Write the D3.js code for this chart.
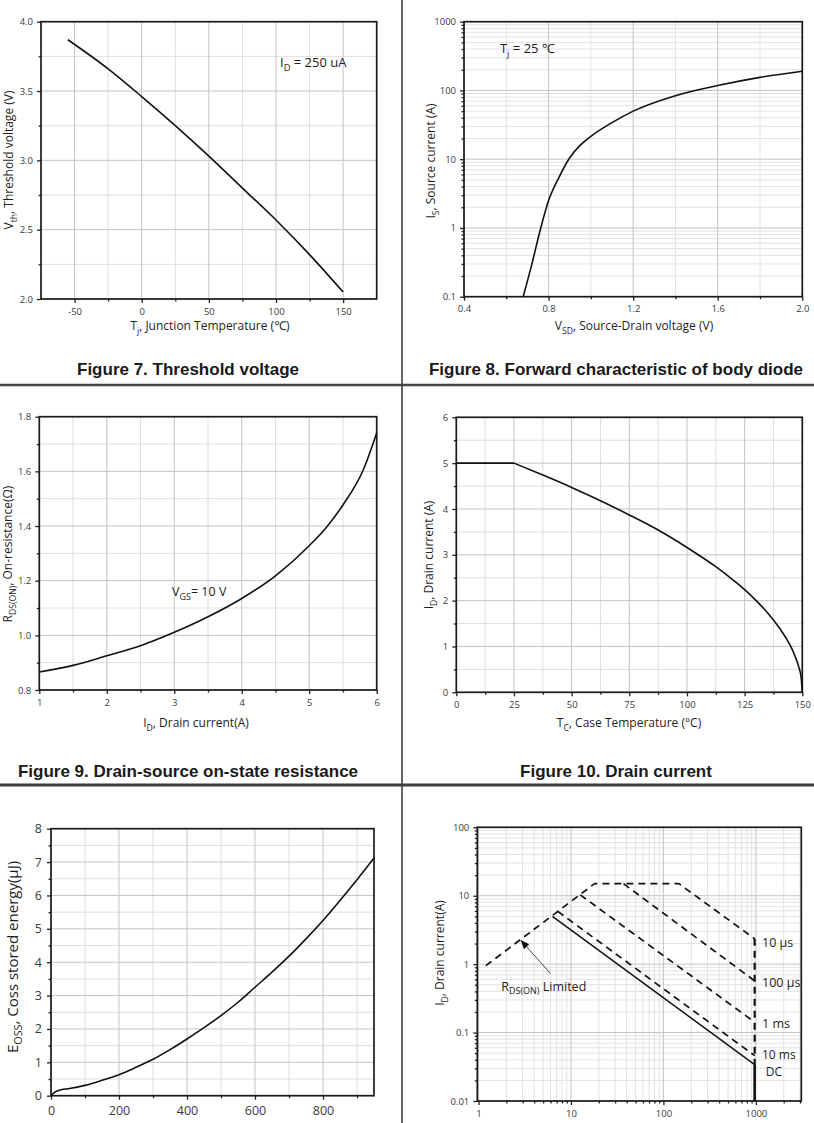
<!DOCTYPE html>
<html><head><meta charset="utf-8">
<script src="https://cdn.jsdelivr.net/npm/d3@7"></script>
<style>body{margin:0;background:#fff} svg{display:block}</style>
</head><body><div id="chart"></div>
<script>
// ---------------- data ----------------
// Figure 7: threshold voltage vs junction temperature
const fig7Temp = [-55, -25, 0, 25, 50, 75, 100, 125, 150];
const fig7Vth  = [3.87, 3.66, 3.46, 3.25, 3.03, 2.80, 2.57, 2.32, 2.05];
const fig7XTicks = [-50, 0, 50, 100, 150];
const fig7XLabels = ["-50", "0", "50", "100", "150"];
const fig7XMinor = [-25, 25, 75, 125];
const fig7YTicks = [2.0, 2.5, 3.0, 3.5, 4.0];
const fig7YLabels = ["2.0", "2.5", "3.0", "3.5", "4.0"];
const fig7YMinor = [2.25, 2.75, 3.25, 3.75];

// Figure 8: body diode forward characteristic
const fig8Vsd = [0.68, 0.72, 0.76, 0.80, 0.85, 0.90, 0.95, 1.0, 1.1, 1.2, 1.4, 1.6, 1.8, 2.0];
const fig8Is  = [0.1, 0.29, 0.92, 2.5, 5.5, 10.5, 16, 21.5, 34, 50, 84, 118, 155, 190];
const fig8XTicks = [0.4, 0.8, 1.2, 1.6, 2.0];
const fig8XLabels = ["0.4", "0.8", "1.2", "1.6", "2.0"];
const fig8XMinor = [0.6, 1.0, 1.4, 1.8];
const fig8YTicks = [0.1, 1, 10, 100, 1000];
const fig8YLabels = ["0.1", "1", "10", "100", "1000"];

// Figure 9: on-resistance vs drain current
const fig9Id  = [1, 1.5, 2, 2.5, 3, 3.5, 4, 4.5, 5, 5.25, 5.5, 5.8, 6];
const fig9Rds = [0.866, 0.89, 0.925, 0.962, 1.011, 1.068, 1.135, 1.218, 1.328, 1.394, 1.477, 1.605, 1.741];
const fig9XTicks = [1, 2, 3, 4, 5, 6];
const fig9XLabels = ["1", "2", "3", "4", "5", "6"];
const fig9XMinor = [1.5, 2.5, 3.5, 4.5, 5.5];
const fig9YTicks = [0.8, 1.0, 1.2, 1.4, 1.6, 1.8];
const fig9YLabels = ["0.8", "1.0", "1.2", "1.4", "1.6", "1.8"];
const fig9YMinor = [0.9, 1.1, 1.3, 1.5, 1.7];

// Figure 10: drain current vs case temperature
const fig10FlatT = [0, 25];
const fig10FlatI = [5, 5];
const fig10Tc = [25, 37.5, 50, 62.5, 75, 87.5, 100, 112.5, 120, 125, 130, 135, 140, 143, 145, 147, 148.5, 149.5, 150];
const fig10Id = [5, 4.74, 4.47, 4.18, 3.87, 3.54, 3.16, 2.74, 2.45, 2.24, 2.0, 1.73, 1.41, 1.18, 1.0, 0.77, 0.55, 0.32, 0];
const fig10XTicks = [0, 25, 50, 75, 100, 125, 150];
const fig10XLabels = ["0", "25", "50", "75", "100", "125", "150"];
const fig10XMinor = [12.5, 37.5, 62.5, 87.5, 112.5, 137.5];
const fig10YTicks = [0, 1, 2, 3, 4, 5, 6];
const fig10YLabels = ["0", "1", "2", "3", "4", "5", "6"];
const fig10YMinor = [0.5, 1.5, 2.5, 3.5, 4.5, 5.5];

// Eoss vs Vds
const eossV = [0, 5, 10, 20, 30, 50, 100, 150, 200, 250, 300, 350, 400, 450, 500, 550, 600, 650, 700, 750, 800, 850, 900, 950];
const eossE = [0, 0.05, 0.1, 0.15, 0.18, 0.21, 0.31, 0.46, 0.63, 0.85, 1.09, 1.38, 1.7, 2.04, 2.4, 2.8, 3.25, 3.7, 4.18, 4.7, 5.25, 5.85, 6.47, 7.12];
const eossXTicks = [0, 200, 400, 600, 800];
const eossXLabels = ["0", "200", "400", "600", "800"];
const eossXMinor = [100, 300, 500, 700, 900];
const eossYTicks = [0, 1, 2, 3, 4, 5, 6, 7, 8];
const eossYLabels = ["0", "1", "2", "3", "4", "5", "6", "7", "8"];
const eossYMinor = [0.5, 1.5, 2.5, 3.5, 4.5, 5.5, 6.5, 7.5];

// Safe operating area
const soaEnvV = [1.2, 18, 147, 970];       // RDS(ON) limit + 10 us envelope
const soaEnvI = [0.95, 15, 15, 2.35];
const soaEdgeV = [970, 970];
const soaEdgeI = [2.35, 0.034];
const soa100usV = [37, 970];
const soa100usI = [15, 0.57];
const soa1msV = [12.6, 970];
const soa1msI = [10.3, 0.142];
const soa10msV = [7.2, 970];
const soa10msI = [5.9, 0.046];
const soaDcV = [6.3, 970];
const soaDcI = [5.0, 0.034];
const soaDcEdgeV = [970, 970];
const soaDcEdgeI = [0.034, 0.01];
const soaArrowFrom = [6.0, 0.73];
const soaArrowTo = [2.9, 2.2];
const soaXTicks = [1, 10, 100, 1000];
const soaXLabels = ["1", "10", "100", "1000"];
const soaYTicks = [0.01, 0.1, 1, 10, 100];
const soaYLabels = ["0.01", "0.1", "1", "10", "100"];

// ---------------- drawing ----------------
const W = 814, H = 1123;
const FONT = "'Open Sans','Noto Sans',sans-serif";
const TFONT = "'Liberation Sans',Arial,sans-serif";
const svg = d3.select("#chart").append("svg").attr("width", W).attr("height", H);

function logMinors(lo, hi) {
  const out = [];
  for (let e = Math.floor(Math.log10(lo)); e <= Math.ceil(Math.log10(hi)); e++)
    for (let k = 2; k <= 9; k++) {
      const v = +(k * Math.pow(10, e)).toPrecision(6);
      if (v > lo && v < hi) out.push(v);
    }
  return out;
}

function rich(x, y, parts, fs, opts = {}) {
  const t = svg.append("text").attr("x", x).attr("y", y)
    .attr("font-family", opts.family || FONT).attr("font-size", fs)
    .attr("fill", opts.fill || "#1e1e1e").attr("text-anchor", opts.anchor || "start");
  if (opts.weight) t.attr("font-weight", opts.weight);
  if (opts.rotate) t.attr("transform", `rotate(-90,${x},${y})`);
  let shifted = false;
  parts.forEach(pt => {
    const sub = Array.isArray(pt);
    const s = t.append("tspan").text(sub ? pt[0] : pt);
    if (sub) { s.attr("font-size", fs * 0.72).attr("dy", fs * 0.3); shifted = true; }
    else if (shifted) { s.attr("dy", -fs * 0.3); shifted = false; }
  });
  return t;
}

function panel(p) {
  const x = p.x, y = p.y;
  const [xl, xr] = x.range(), [yb, yt] = y.range();
  const g = svg.append("g");
  const vgrid = (vals, col) => g.append("g").selectAll("line").data(vals).join("line")
    .attr("x1", d => x(d)).attr("x2", d => x(d)).attr("y1", yb).attr("y2", yt)
    .attr("stroke", col).attr("stroke-width", 1);
  const hgrid = (vals, col) => g.append("g").selectAll("line").data(vals).join("line")
    .attr("y1", d => y(d)).attr("y2", d => y(d)).attr("x1", xl).attr("x2", xr)
    .attr("stroke", col).attr("stroke-width", 1);
  vgrid(p.xMinor, p.minorCol || "#dedede");
  hgrid(p.yMinor, p.minorCol || "#dedede");
  vgrid(p.xTicks, "#c4c4c4");
  hgrid(p.yTicks, "#c4c4c4");

  const fs = p.fs || 9.5;
  const styleAxis = s => {
    s.attr("font-family", FONT).attr("font-size", fs);
    s.select(".domain").remove();
    s.selectAll("line").attr("stroke", "#222").attr("stroke-width", 1.3);
    s.selectAll("text").attr("fill", "#3a3a3a");
  };
  g.append("g").attr("transform", `translate(0,${yb})`)
    .call(d3.axisBottom(x).tickValues(p.xTicks).tickSize(4).tickSizeOuter(0).tickPadding(p.xPad || 5)
      .tickFormat(d => p.xLabels[p.xTicks.indexOf(d)]))
    .call(styleAxis);
  g.append("g").attr("transform", `translate(0,${yb})`)
    .call(d3.axisBottom(x).tickValues(p.xMinor).tickSize(2.5).tickSizeOuter(0).tickFormat(""))
    .call(styleAxis);
  g.append("g").attr("transform", `translate(${xl},0)`)
    .call(d3.axisLeft(y).tickValues(p.yTicks).tickSize(4).tickSizeOuter(0).tickPadding(p.yPad || 4)
      .tickFormat(d => p.yLabels[p.yTicks.indexOf(d)]))
    .call(styleAxis);
  g.append("g").attr("transform", `translate(${xl},0)`)
    .call(d3.axisLeft(y).tickValues(p.yMinor).tickSize(2.5).tickSizeOuter(0).tickFormat(""))
    .call(styleAxis);
  g.append("rect").attr("x", xl).attr("y", yt).attr("width", xr - xl).attr("height", yb - yt)
    .attr("fill", "none").attr("stroke", "#1a1a1a").attr("stroke-width", 1.7);
  return g;
}

function curve(g, x, y, xs, ys, opts = {}) {
  const pts = xs.map((v, i) => [v, ys[i]]);
  g.append("path").datum(pts)
    .attr("d", d3.line().x(d => x(d[0])).y(d => y(d[1])).curve(opts.curve || d3.curveMonotoneX))
    .attr("fill", "none").attr("stroke", "#111").attr("stroke-width", opts.w || 1.6)
    .attr("stroke-dasharray", opts.dash || null).attr("stroke-linejoin", "round");
}

// ---- Panel 1: Figure 7 ----
{
  const x = d3.scaleLinear([-75, 175], [41, 376.7]);
  const y = d3.scaleLinear([2, 4], [299, 21.7]);
  const g = panel({x, y, xTicks: fig7XTicks, xLabels: fig7XLabels, xMinor: fig7XMinor,
    yTicks: fig7YTicks, yLabels: fig7YLabels, yMinor: fig7YMinor});
  curve(g, x, y, fig7Temp, fig7Vth);
  rich(x(103), y(3.675), ["I", ["D"], " = 250 uA"], 13);
  rich(210, 330, ["T", ["j"], ", Junction Temperature (℃)"], 12, {anchor: "middle"});
  rich(13, 160, ["V", ["th"], ", Threshold voltage (V)"], 12, {anchor: "middle", rotate: true});
}
// ---- Panel 2: Figure 8 ----
{
  const x = d3.scaleLinear([0.4, 2.0], [464, 802.3]);
  const y = d3.scaleLog([0.1, 1000], [296.7, 21.7]);
  const g = panel({x, y, xTicks: fig8XTicks, xLabels: fig8XLabels, xMinor: fig8XMinor,
    yTicks: fig8YTicks, yLabels: fig8YLabels, yMinor: logMinors(0.1, 1000), minorCol: "#e2e2e2"});
  curve(g, x, y, fig8Vsd, fig8Is);
  rich(x(0.57), y(351), ["T", ["j"], " = 25 ℃"], 13);
  rich(634, 330, ["V", ["SD"], ", Source-Drain voltage (V)"], 12, {anchor: "middle"});
  rich(435, 161, ["I", ["S"], ", Source current (A)"], 12, {anchor: "middle", rotate: true});
}
// ---- Panel 3: Figure 9 ----
{
  const x = d3.scaleLinear([1, 6], [39.3, 376.7]);
  const y = d3.scaleLinear([0.8, 1.8], [690, 416.7]);
  const g = panel({x, y, xTicks: fig9XTicks, xLabels: fig9XLabels, xMinor: fig9XMinor,
    yTicks: fig9YTicks, yLabels: fig9YLabels, yMinor: fig9YMinor});
  curve(g, x, y, fig9Id, fig9Rds);
  rich(x(2.967), y(1.144), ["V", ["GS"], "= 10 V"], 12.5);
  rich(196, 727, ["I", ["D"], ", Drain current(A)"], 12, {anchor: "middle"});
  rich(12, 554, ["R", ["DS(ON)"], ", On-resistance(Ω)"], 12, {anchor: "middle", rotate: true});
}
// ---- Panel 4: Figure 10 ----
{
  const x = d3.scaleLinear([0, 150], [456.3, 802.3]);
  const y = d3.scaleLinear([0, 6], [692.3, 417.3]);
  const g = panel({x, y, xTicks: fig10XTicks, xLabels: fig10XLabels, xMinor: fig10XMinor,
    yTicks: fig10YTicks, yLabels: fig10YLabels, yMinor: fig10YMinor});
  curve(g, x, y, fig10FlatT, fig10FlatI, {curve: d3.curveLinear});
  curve(g, x, y, fig10Tc, fig10Id);
  rich(629, 727, ["T", ["C"], ", Case Temperature (°C)"], 12, {anchor: "middle"});
  rich(433, 555, ["I", ["D"], ", Drain current (A)"], 12, {anchor: "middle", rotate: true});
}
// ---- Panel 5: Eoss ----
{
  const x = d3.scaleLinear([0, 950], [51, 374]);
  const y = d3.scaleLinear([0, 8], [1095.7, 828.7]);
  const g = panel({x, y, xTicks: eossXTicks, xLabels: eossXLabels, xMinor: eossXMinor,
    yTicks: eossYTicks, yLabels: eossYLabels, yMinor: eossYMinor, fs: 12.5, xPad: 6, yPad: 5});
  curve(g, x, y, eossV, eossE);
  rich(17.5, 957, ["E", ["OSS"], ", Coss stored energy(μJ)"], 15, {anchor: "middle", rotate: true});
}
// ---- Panel 6: SOA ----
{
  const x = d3.scaleLog([0.97, 3100], [477.3, 801.3]);
  const y = d3.scaleLog([0.01, 100], [1101, 827.3]);
  const g = panel({x, y, xTicks: soaXTicks, xLabels: soaXLabels, xMinor: logMinors(0.97, 3100),
    yTicks: soaYTicks, yLabels: soaYLabels, yMinor: logMinors(0.01, 100), minorCol: "#e2e2e2"});
  const dash = "7,5";
  curve(g, x, y, soaEnvV, soaEnvI, {curve: d3.curveLinear, dash, w: 1.7});
  curve(g, x, y, soaEdgeV, soaEdgeI, {curve: d3.curveLinear, dash, w: 2.2});
  curve(g, x, y, soa100usV, soa100usI, {curve: d3.curveLinear, dash, w: 1.7});
  curve(g, x, y, soa1msV, soa1msI, {curve: d3.curveLinear, dash, w: 1.7});
  curve(g, x, y, soa10msV, soa10msI, {curve: d3.curveLinear, dash, w: 1.7});
  curve(g, x, y, soaDcV, soaDcI, {curve: d3.curveLinear, w: 1.5});
  curve(g, x, y, soaDcEdgeV, soaDcEdgeI, {curve: d3.curveLinear, w: 2.6});
  svg.append("defs").append("marker").attr("id", "ah").attr("viewBox", "0 0 10 10")
    .attr("refX", 9).attr("refY", 5).attr("markerWidth", 9).attr("markerHeight", 9)
    .attr("markerUnits", "userSpaceOnUse").attr("orient", "auto")
    .append("path").attr("d", "M0,1 L10,5 L0,9 Z").attr("fill", "#111");
  g.append("line").attr("x1", x(soaArrowFrom[0])).attr("y1", y(soaArrowFrom[1]))
    .attr("x2", x(soaArrowTo[0])).attr("y2", y(soaArrowTo[1]))
    .attr("stroke", "#333").attr("stroke-width", 0.9).attr("marker-end", "url(#ah)");
  rich(x(1.76), y(0.41), ["R", ["DS(ON)"], " Limited"], 12.5);
  rich(x(1165), y(1.8), ["10 µs"], 12.5);
  rich(x(1165), y(0.46), ["100 µs"], 12.5);
  rich(x(1165), y(0.118), ["1 ms"], 12.5);
  rich(x(1165), y(0.041), ["10 ms"], 12);
  rich(x(1277), y(0.0235), ["DC"], 12);
  rich(444, 953, ["I", ["D"], ", Drain current(A)"], 12, {anchor: "middle", rotate: true});
}

// ---- titles ----
const titleOpts = {anchor: "middle", family: TFONT, weight: "bold", fill: "#1a1a1a"};
rich(188, 375, ["Figure 7. Threshold voltage"], 17, titleOpts);
rich(616, 375, ["Figure 8. Forward characteristic of body diode"], 17, titleOpts);
rich(188, 777, ["Figure 9. Drain-source on-state resistance"], 17, titleOpts);
rich(616, 777, ["Figure 10. Drain current"], 17, titleOpts);

// ---- separators ----
svg.append("line").attr("x1", 402).attr("x2", 402).attr("y1", 0).attr("y2", H)
  .attr("stroke", "#555").attr("stroke-width", 1.8);
svg.append("line").attr("x1", 0).attr("x2", W).attr("y1", 385).attr("y2", 385)
  .attr("stroke", "#444").attr("stroke-width", 2.6);
svg.append("line").attr("x1", 0).attr("x2", W).attr("y1", 785).attr("y2", 785)
  .attr("stroke", "#3d3d3d").attr("stroke-width", 2.8);
</script>
</body></html>
